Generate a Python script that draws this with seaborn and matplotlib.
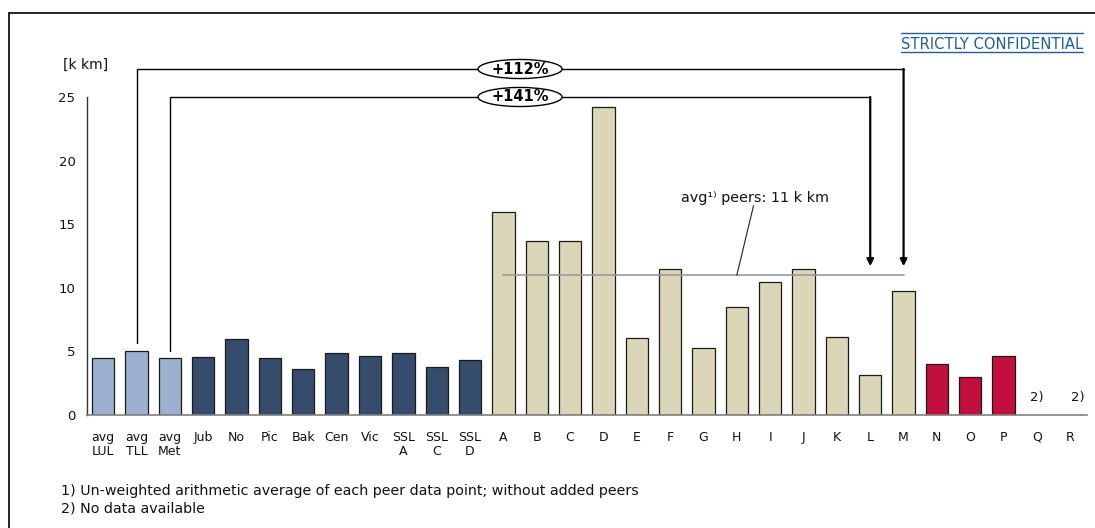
import numpy as np
import pandas as pd
import matplotlib
matplotlib.use("Agg")
import matplotlib.pyplot as plt
from matplotlib.patches import Ellipse
from matplotlib.lines import Line2D
import seaborn as sns

# ---- data -------------------------------------------------------------
categories = ["avg\nLUL", "avg\nTLL", "avg\nMet", "Jub", "No", "Pic", "Bak",
              "Cen", "Vic", "SSL\nA", "SSL\nC", "SSL\nD",
              "A", "B", "C", "D", "E", "F", "G", "H", "I", "J", "K", "L", "M",
              "N", "O", "P", "Q", "R"]
values = [4.45, 5.05, 4.45, 4.55, 6.0, 4.45, 3.6, 4.85, 4.6, 4.9, 3.8, 4.35,
          15.95, 13.7, 13.7, 24.2, 6.05, 11.5, 5.25, 8.5, 10.45, 11.5, 6.15,
          3.15, 9.75, 4.0, 3.0, 4.6, np.nan, np.nan]
groups = (["avg"] * 3 + ["line"] * 9 + ["peer"] * 13 + ["added"] * 5)
group_colors = {"avg": "#9DB0CF", "line": "#364C6C",
                "peer": "#DCD6B8", "added": "#C20F3D"}
yticks = [0, 5, 10, 15, 20, 25]
peer_avg = 11.0
brackets = [("+112%", "avg\nTLL", "M"), ("+141%", "avg\nMet", "L")]
no_data_note = "2)"

df = pd.DataFrame({"cat": categories, "val": values, "grp": groups})

# ---- figure -----------------------------------------------------------
sns.set_theme(style="white")
plt.rcParams["font.family"] = ["DejaVu Sans"]
plt.rcParams["font.size"] = 9

fig = plt.figure(figsize=(10.95, 5.28), dpi=100)
ax = fig.add_axes([0.0790, 0.2140, 0.9137, 0.6023])

sns.barplot(data=df.dropna(), x="cat", y="val", hue="grp", order=categories,
            palette=group_colors, dodge=False, width=0.67, legend=False,
            saturation=1, edgecolor="#1a1a1a", linewidth=0.9,
            errorbar=None, ax=ax)

ax.set_xlim(-0.5, len(categories) - 0.5)
ax.set_ylim(0, 25)
ax.set_yticks(yticks)
ax.set_xlabel("")
ax.set_ylabel("")
for side in ["top", "right"]:
    ax.spines[side].set_visible(False)
ax.spines["left"].set_color("#333333")
ax.spines["left"].set_linewidth(1.0)
ax.spines["bottom"].set_color("#808080")
ax.spines["bottom"].set_linewidth(1.2)
ax.tick_params(axis="y", direction="out", length=3, width=1.0,
               color="#333333", pad=5, labelsize=9.5, labelcolor="#111111")
ax.tick_params(axis="x", length=0, pad=11.5, labelsize=9,
               labelcolor="#111111")
for lab in ax.get_xticklabels():
    lab.set_linespacing(1.1)

pos = {c: i for i, c in enumerate(categories)}
val = dict(zip(categories, values))

# "no data" markers
for c, v in zip(categories, values):
    if np.isnan(v):
        dx = 0.22 if pos[c] == len(categories) - 1 else 0.0
        ax.text(pos[c] + dx, 1.35, no_data_note, ha="center", va="center",
                fontsize=9.5, color="#111111")

# peer average line with its leader and label
first_peer, last_peer = pos["A"], pos["M"]
ax.plot([first_peer, last_peer], [peer_avg, peer_avg], color="#9a9a9a",
        lw=1.2, zorder=3)
ax.plot([19.0, 19.5], [peer_avg, 16.45], color="#222222", lw=0.8, zorder=3)
ax.text(19.55, 17.05, "avg\u00b9\u207e peers: 11 k km", ha="center",
        va="center", fontsize=10.4, color="#111111")

# comparison brackets
tops = [27.2, 25.0]
for (label, src, dst), top in zip(brackets, tops):
    xs, xd = pos[src], pos[dst]
    ax.plot([xs, xs, xd], [val[src] + 0.62, top, top], color="black",
            lw=1.0, clip_on=False, zorder=4, solid_joinstyle="miter")
    ax.annotate("", xy=(xd, 11.7), xytext=(xd, top),
                arrowprops=dict(arrowstyle="-|>", color="black", lw=1.6,
                                mutation_scale=10, shrinkA=0, shrinkB=0),
                annotation_clip=False, zorder=4)
    ell = Ellipse((12.5, top), width=2.52, height=1.5, facecolor="white",
                  edgecolor="black", lw=1.0, clip_on=False, zorder=5)
    ax.add_patch(ell)
    ax.text(12.5, top, label, ha="center", va="center", fontsize=10.5,
            fontweight="bold", color="black", zorder=6, clip_on=False)

# unit label
fig.text(86 / 1095, 1 - 65 / 528, "[k km]", ha="center", va="center",
         fontsize=10, color="#111111")

# confidentiality marker
blue = "#1F5E9E"
fig.text(992 / 1095, 1 - 44.5 / 528, "STRICTLY CONFIDENTIAL", ha="center",
         va="center", fontsize=10.6, color=blue)
for yy in (33, 52.5):
    fig.add_artist(Line2D([901 / 1095, 1083 / 1095],
                          [1 - yy / 528, 1 - yy / 528],
                          color=blue, lw=1.0))

# page frame (top and left)
fig.add_artist(Line2D([9 / 1095, 1.0], [1 - 13 / 528, 1 - 13 / 528],
                      color="black", lw=1.2))
fig.add_artist(Line2D([9 / 1095, 9 / 1095], [0.0, 1 - 13 / 528],
                      color="black", lw=1.2))

# footnotes
fig.text(61 / 1095, 1 - 491 / 528,
         "1) Un-weighted arithmetic average of each peer data point; "
         "without added peers", ha="left", va="center", fontsize=10.3,
         color="#111111")
fig.text(61 / 1095, 1 - 509 / 528, "2) No data available", ha="left",
         va="center", fontsize=10.3, color="#111111")

fig.savefig("out.png", dpi=100)
